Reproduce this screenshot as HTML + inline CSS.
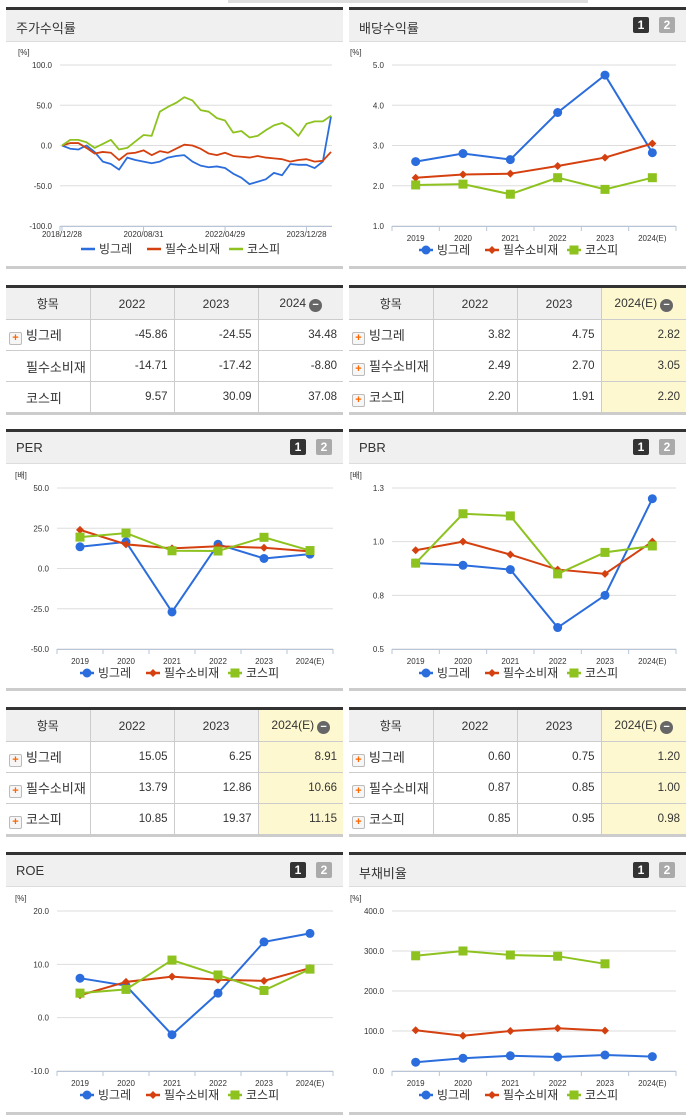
<!DOCTYPE html>
<html><head><meta charset="utf-8">
<style>
body{margin:0;width:691px;height:1115px;background:#fff;position:relative;overflow:hidden;font-family:"Liberation Sans","Noto Sans CJK KR",sans-serif;color:#333}
.panel{position:absolute;width:337px;border-top:3px solid #333;border-bottom:3px solid #ccc;background:#fff}
.hdr{height:31px;background:#f0f0f0;border-bottom:1px solid #ddd;position:relative}
.hdr .t{position:absolute;left:10px;top:8px;font-size:13px;color:#333}
.b{position:absolute;top:7px;width:16px;height:16px;font-size:12px;font-weight:bold;color:#fff;text-align:center;line-height:16px;border-radius:2px}
.b1{right:37px;background:#333}.b2{right:11px;background:#aaa}
table{position:absolute;border-collapse:collapse;width:337px;table-layout:fixed;border-top:3px solid #333;border-bottom:3px solid #ccc;font-size:12px}
td,th{border:1px solid #ccc;height:30px;padding:0 6px;font-weight:normal;white-space:nowrap;overflow:hidden}
table tr td:first-child,table tr th:first-child{border-left:none}
table tr td:last-child,table tr th:last-child{border-right:none}
th{background:#f0f0f0;font-size:12px;text-align:center;height:31px}
td{text-align:right;font-size:11.5px}
td.n{text-align:left;font-size:13px;padding-left:3px}
.pl{display:inline-block;width:11px;height:11px;border:1px solid #bbb;border-radius:2px;background:#f6f6f6;color:#f60;font-size:11px;line-height:10px;text-align:center;font-weight:bold;vertical-align:-1px;margin-right:4px}
.hl{background:#fdf8d0}
.mi{display:inline-block;width:13px;height:13px;border-radius:7px;background:#666;color:#fff;font-size:11px;line-height:12px;text-align:center;font-weight:bold;vertical-align:-1px;margin-left:3px}
svg{position:absolute;left:0;top:0}
</style></head><body>
<div style="position:absolute;left:228px;top:0;width:360px;height:3px;background:#ddd"></div>

<div class="panel" style="left:6px;top:7px;height:256px"><div class="hdr"><span class="t">주가수익률</span></div></div>
<div class="panel" style="left:349px;top:7px;height:256px"><div class="hdr"><span class="t">배당수익률</span><span class="b b1">1</span><span class="b b2">2</span></div></div>
<div class="panel" style="left:6px;top:429px;height:256px"><div class="hdr"><span class="t">PER</span><span class="b b1">1</span><span class="b b2">2</span></div></div>
<div class="panel" style="left:349px;top:429px;height:256px"><div class="hdr"><span class="t">PBR</span><span class="b b1">1</span><span class="b b2">2</span></div></div>
<div class="panel" style="left:6px;top:852px;height:257px"><div class="hdr"><span class="t">ROE</span><span class="b b1">1</span><span class="b b2">2</span></div></div>
<div class="panel" style="left:349px;top:852px;height:257px"><div class="hdr"><span class="t">부채비율</span><span class="b b1">1</span><span class="b b2">2</span></div></div>

<table style="left:6px;top:285px">
<colgroup><col style="width:84px"><col style="width:84px"><col style="width:84px"><col style="width:85px"></colgroup>
<tr><th>항목</th><th>2022</th><th>2023</th><th>2024<span class="mi">−</span></th></tr>
<tr><td class="n"><span class="pl">+</span>빙그레</td><td>-45.86</td><td>-24.55</td><td>34.48</td></tr>
<tr><td class="n" style="padding-left:20px">필수소비재</td><td>-14.71</td><td>-17.42</td><td>-8.80</td></tr>
<tr><td class="n" style="padding-left:20px">코스피</td><td>9.57</td><td>30.09</td><td>37.08</td></tr>
</table>
<table style="left:349px;top:285px">
<colgroup><col style="width:84px"><col style="width:84px"><col style="width:84px"><col style="width:85px"></colgroup>
<tr><th>항목</th><th>2022</th><th>2023</th><th class="hl">2024(E)<span class="mi">−</span></th></tr>
<tr><td class="n"><span class="pl">+</span>빙그레</td><td>3.82</td><td>4.75</td><td class="hl">2.82</td></tr>
<tr><td class="n"><span class="pl">+</span>필수소비재</td><td>2.49</td><td>2.70</td><td class="hl">3.05</td></tr>
<tr><td class="n"><span class="pl">+</span>코스피</td><td>2.20</td><td>1.91</td><td class="hl">2.20</td></tr>
</table>
<table style="left:6px;top:707px">
<colgroup><col style="width:84px"><col style="width:84px"><col style="width:84px"><col style="width:85px"></colgroup>
<tr><th>항목</th><th>2022</th><th>2023</th><th class="hl">2024(E)<span class="mi">−</span></th></tr>
<tr><td class="n"><span class="pl">+</span>빙그레</td><td>15.05</td><td>6.25</td><td class="hl">8.91</td></tr>
<tr><td class="n"><span class="pl">+</span>필수소비재</td><td>13.79</td><td>12.86</td><td class="hl">10.66</td></tr>
<tr><td class="n"><span class="pl">+</span>코스피</td><td>10.85</td><td>19.37</td><td class="hl">11.15</td></tr>
</table>
<table style="left:349px;top:707px">
<colgroup><col style="width:84px"><col style="width:84px"><col style="width:84px"><col style="width:85px"></colgroup>
<tr><th>항목</th><th>2022</th><th>2023</th><th class="hl">2024(E)<span class="mi">−</span></th></tr>
<tr><td class="n"><span class="pl">+</span>빙그레</td><td>0.60</td><td>0.75</td><td class="hl">1.20</td></tr>
<tr><td class="n"><span class="pl">+</span>필수소비재</td><td>0.87</td><td>0.85</td><td class="hl">1.00</td></tr>
<tr><td class="n"><span class="pl">+</span>코스피</td><td>0.85</td><td>0.95</td><td class="hl">0.98</td></tr>
</table>

<svg id="svg" width="691" height="1115"></svg>

<script>
// ---- data ----
const years = ["2019","2020","2021","2022","2023","2024(E)"];
const seriesNames = ["빙그레","필수소비재","코스피"];
const divBing = [2.6,2.8,2.65,3.82,4.75,2.82];
const divSector = [2.2,2.28,2.3,2.49,2.70,3.05];
const divKospi = [2.02,2.04,1.79,2.20,1.91,2.20];
const perBing = [13.5,16.5,-27,15.05,6.25,8.91];
const perSector = [24,15,12.5,13.79,12.86,10.66];
const perKospi = [19.5,22,11,10.85,19.37,11.15];
const pbrBing = [0.9,0.89,0.87,0.60,0.75,1.20];
const pbrSector = [0.96,1.00,0.94,0.87,0.85,1.00];
const pbrKospi = [0.9,1.13,1.12,0.85,0.95,0.98];
const roeBing = [7.4,6.0,-3.2,4.6,14.2,15.8];
const roeSector = [4.2,6.7,7.7,7.1,6.9,9.3];
const roeKospi = [4.6,5.3,10.8,8.0,5.1,9.1];
const debtBing = [22,32,38,35,40,36];
const debtSector = [102,88,100,107,101];
const debtKospi = [288,300,290,287,268];
const divTicks = ["5.0","4.0","3.0","2.0","1.0"];
const perTicks = ["50.0","25.0","0.0","-25.0","-50.0"];
const pbrTicks = ["1.3","1.0","0.8","0.5"];
const roeTicks = ["20.0","10.0","0.0","-10.0"];
const debtTicks = ["400.0","300.0","200.0","100.0","0.0"];
const stockTicks = ["100.0","50.0","0.0","-50.0","-100.0"];
const stockDateLabels = ["2018/12/28","2020/08/31","2022/04/29","2023/12/28"];
const stockDateMonths = [0,20,40,60];
const stockMonths = [0,2,4,6,8,10,12,14,16,18,20,22,24,26,28,30,32,34,36,38,40,42,44,46,48,50,52,54,56,58,60,62,64,66];
const stockBing = [0,-4,-5,0,-8,-20,-23,-30,-15,-18,-20,-22,-20,-15,-13,-12,-20,-25,-27,-26,-28,-35,-40,-48,-45,-42,-34,-37,-23,-24,-24,-28,-20,36];
const stockSector = [0,3,3,-3,-10,-8,-9,-18,-10,-9,-6,-12,-7,-9,-4,1,0,-4,-10,-12,-9,-13,-14,-15,-13,-15,-16,-17,-20,-18,-17,-20,-19,-8];
const stockKospi = [0,7,7,4,-3,2,7,-5,-3,5,13,12,42,48,53,60,56,44,42,34,31,16,18,10,12,19,25,28,22,12,27,30,30,37];

const svg=document.getElementById('svg');
const NS='http://www.w3.org/2000/svg';
const COL=['#2b6ddc','#d4400f','#8dc21f'];
function mk(tag,attrs,parent){const e=document.createElementNS(NS,tag);for(const k in attrs)e.setAttribute(k,attrs[k]);(parent||svg).appendChild(e);return e;}
function txt(x,y,s,size,anchor,fill){const t=mk('text',{x:x,y:y,'font-size':size,'text-anchor':anchor||'start',fill:fill||'#333','font-family':'Liberation Sans, Noto Sans CJK KR, sans-serif'});t.textContent=s;return t;}

function axes(g,L,R,T,B,ticks,unit){
  const lab=txt(L-42,T-10,unit,8,'start');
  
  
  ticks.forEach((s,i)=>{const y=T+(B-T)*i/(ticks.length-1);
    const l=mk('line',{x1:L,x2:R,y1:y,y2:y,stroke:'#ddd','stroke-width':1});
    
    
    const t=txt(L-8,y+3,s,8,'end');
    
    });
  mk('line',{x1:L,x2:R,y1:B+0.5,y2:B+0.5,stroke:'#b8c4d8','stroke-width':1});
}
function legend(cx,y,markers){
  const w=[66,82,66];let x=cx-107;
  seriesNames.forEach((n,i)=>{
    const g=mk('g',{});
    
    
    mk('line',{x1:x,x2:x+14,y1:y-4,y2:y-4,stroke:COL[i],'stroke-width':2.5},g);
    if(markers)marker(x+7,y-4,i,g);
    txt(x+18,y,n,12,'start','#333').setAttribute('font-size','12');
    x+=w[i];
  });
}
function marker(x,y,i,g){
  if(i==0)mk('circle',{cx:x,cy:y,r:4.5,fill:COL[0]},g);
  else if(i==1)mk('path',{d:`M${x} ${y-4}L${x+4} ${y}L${x} ${y+4}L${x-4} ${y}Z`,fill:COL[1]},g);
  else mk('rect',{x:x-4.5,y:y-4.5,width:9,height:9,fill:COL[2]},g);
}
function yearChart(name,L,R,T,B,min,max,ticks,unit,data){
  const g=mk('g',{});
  
  
  axes(g,L,R,T,B,ticks,unit);
  const n=years.length,bw=(R-L)/n;
  const xs=i=>L+bw*(i+0.5);
  const ys=v=>B-(v-min)/(max-min)*(B-T);
  for(let i=0;i<=n;i++)mk('line',{x1:L+bw*i,x2:L+bw*i,y1:B,y2:B+5,stroke:'#b8c4d8'});
  years.forEach((s,i)=>{const t=txt(xs(i),B+15,s,8,'middle');
    
    });
  data.forEach((arr,si)=>{
    const pts=arr.map((v,i)=>xs(i)+','+ys(v)).join(' ');
    const pl=mk('polyline',{points:pts,fill:'none',stroke:COL[si],'stroke-width':2});
    
    
    arr.forEach((v,i)=>{const mg=mk('g',{});
      
      
      marker(xs(i),ys(v),si,mg);});
  });
  legend((L+R)/2-8,B+28,true);
}
yearChart('dividend-chart',392,676,65,226,1,5,divTicks,'[%]',[divBing,divSector,divKospi]);
yearChart('per-chart',57,333,488,649,-50,50,perTicks,'[배]',[perBing,perSector,perKospi]);
yearChart('pbr-chart',392,676,488,649,0.5,1.25,pbrTicks,'[배]',[pbrBing,pbrSector,pbrKospi]);
yearChart('roe-chart',57,333,911,1071,-10,20,roeTicks,'[%]',[roeBing,roeSector,roeKospi]);
yearChart('debt-chart',392,676,911,1071,0,400,debtTicks,'[%]',[debtBing,debtSector,debtKospi]);

// stock chart
(function(){
  const L=60,R=332,T=65,B=226,min=-100,max=100,maxM=66;
  const g=mk('g',{});
  
  
  axes(g,L,R,T,B,stockTicks,'[%]');
  const xs=m=>L+2+(m/maxM)*(R-L-3);
  const ys=v=>B-(v-min)/(max-min)*(B-T);
  mk('line',{x1:L,x2:L,y1:B,y2:B+5,stroke:'#b8c4d8'});
  stockDateMonths.forEach((m,i)=>{
    mk('line',{x1:xs(m),x2:xs(m),y1:B,y2:B+5,stroke:'#b8c4d8'});
    const t=txt(xs(m),B+11,stockDateLabels[i],8,'middle');
    
    
  });
  [stockBing,stockSector,stockKospi].forEach((arr,si)=>{
    const pts=arr.map((v,i)=>xs(stockMonths[i])+','+ys(v)).join(' ');
    const pl=mk('polyline',{points:pts,fill:'none',stroke:COL[si],'stroke-width':1.8,'stroke-linejoin':'round'});
    
    
  });
  legend(188,253,false);
})();
</script>
</body></html>
